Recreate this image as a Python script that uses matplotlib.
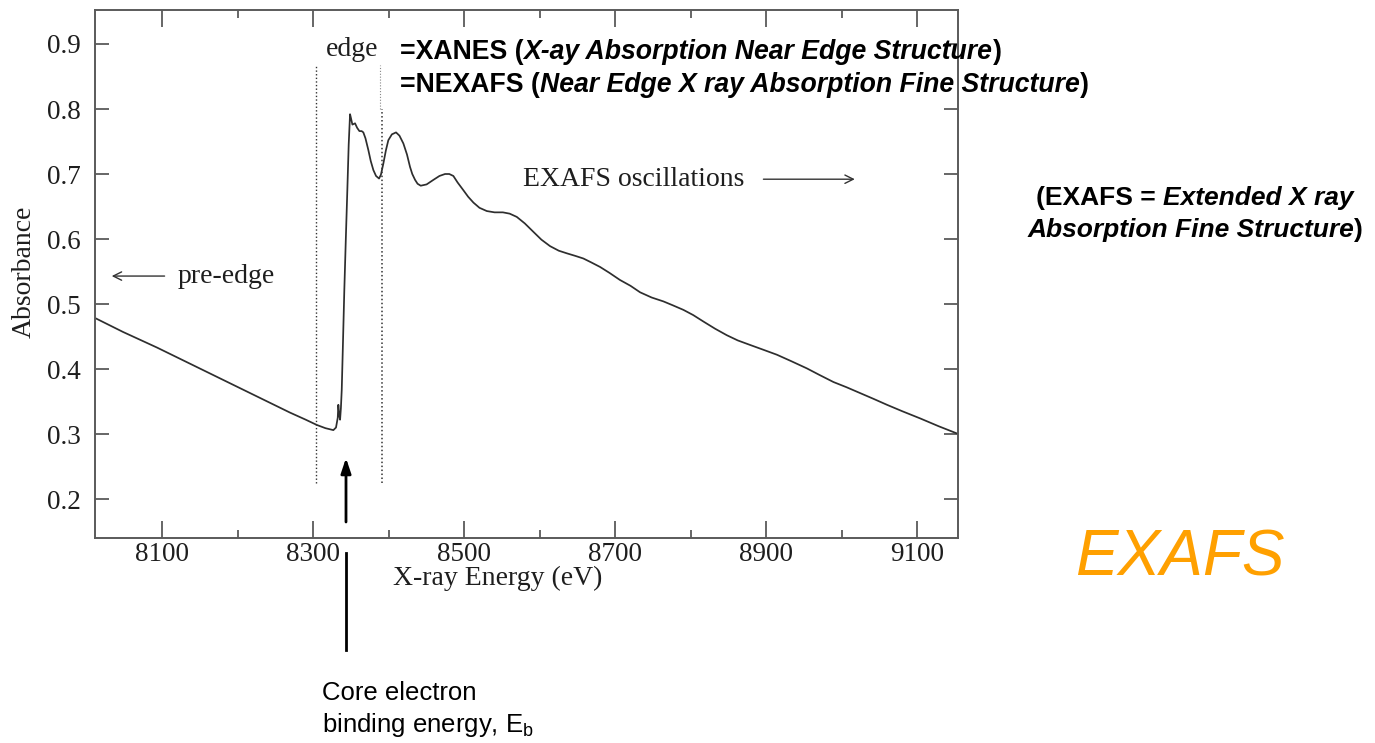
import matplotlib
matplotlib.use("Agg")
import matplotlib.pyplot as plt
from matplotlib.ticker import FixedLocator, MultipleLocator

# Cu K-edge absorption spectrum (energy in eV, absorbance)
energy_ev = [8010, 8048, 8093, 8137, 8181, 8225, 8269, 8290, 8304.5, 8316, 8326.5,
             8330, 8332.3, 8333.1, 8334.2, 8335.4, 8336.5, 8337.6, 8339, 8341, 8343,
             8345, 8346.8, 8348.6, 8350, 8351.7, 8353.5, 8355.2, 8358, 8361, 8364,
             8366.2, 8369, 8372.8, 8376, 8379.5, 8383, 8387, 8389.5, 8392.7, 8396,
             8399.3, 8404, 8409.5, 8414, 8419.2, 8424, 8428, 8431, 8434.7, 8438,
             8442.2, 8450, 8459, 8467, 8474.4, 8480, 8485.4, 8491, 8498.7, 8505,
             8512, 8520, 8529.7, 8540, 8551, 8560, 8569.4, 8580, 8591.4, 8602,
             8613.5, 8625, 8635.6, 8647, 8657.6, 8668, 8679.7, 8692, 8706, 8720,
             8732.7, 8748, 8763.6, 8776, 8790, 8803, 8816.6, 8832, 8847.5, 8862,
             8878.4, 8895, 8913.8, 8933, 8953.5, 8970, 8988.7, 9006, 9024, 9042,
             9059.5, 9080, 9103.6, 9128, 9152]
absorbance = [0.479, 0.457, 0.433, 0.408, 0.383, 0.358, 0.333, 0.322, 0.314, 0.309, 0.306,
              0.310, 0.325, 0.345, 0.330, 0.322, 0.340, 0.368, 0.430, 0.521, 0.600,
              0.675, 0.745, 0.792, 0.785, 0.776, 0.777, 0.778, 0.771, 0.766, 0.766,
              0.764, 0.755, 0.737, 0.720, 0.706, 0.697, 0.693, 0.699, 0.716, 0.736,
              0.752, 0.761, 0.764, 0.759, 0.747, 0.730, 0.711, 0.700, 0.691, 0.685,
              0.682, 0.684, 0.691, 0.697, 0.700, 0.700, 0.697, 0.687, 0.675, 0.665,
              0.656, 0.648, 0.643, 0.641, 0.641, 0.639, 0.634, 0.624, 0.611, 0.599,
              0.589, 0.582, 0.578, 0.574, 0.570, 0.564, 0.557, 0.548, 0.537, 0.528,
              0.518, 0.510, 0.504, 0.498, 0.491, 0.483, 0.473, 0.462, 0.452, 0.444,
              0.437, 0.430, 0.422, 0.412, 0.401, 0.391, 0.380, 0.372, 0.363, 0.354,
              0.345, 0.335, 0.324, 0.312, 0.301]

x_major_ticks = [8100, 8300, 8500, 8700, 8900, 9100]
y_major_ticks = [0.2, 0.3, 0.4, 0.5, 0.6, 0.7, 0.8, 0.9]
edge_start, edge_end = 8303.6, 8391.0
x_range = (8010.2, 9153.0)
y_range = (0.1405, 0.9523)

W, H = 1375, 743
SERIF = "Liberation Serif"
SANS = "Liberation Sans"
INK = "#1e1e1e"
AXIS_GREY = "#5a5a5a"

fig = plt.figure(figsize=(W / 100, H / 100), dpi=100)
fig.patch.set_facecolor("white")


def frac(x, y):
    """Figure-fraction position for a point given in pixels from the top-left."""
    return x / W, (H - y) / H


def px(x, y):
    """Figure-pixel position (origin bottom-left) for a top-left pixel point."""
    return x, H - y


ax = fig.add_axes([94.5 / W, (H - 537.7) / H, (957.5 - 94.5) / W, (537.7 - 10) / H])
ax.plot(energy_ev, absorbance, color="#2e2e2e", lw=1.25, solid_joinstyle="round")
ax.set_xlim(*x_range)
ax.set_ylim(*y_range)

for sp in ax.spines.values():
    sp.set_color(AXIS_GREY)
    sp.set_linewidth(1.4)

ax.xaxis.set_major_locator(FixedLocator(x_major_ticks))
ax.xaxis.set_minor_locator(MultipleLocator(100))
ax.yaxis.set_major_locator(FixedLocator(y_major_ticks))
ax.set_xticklabels([str(t) for t in x_major_ticks])
ax.set_yticklabels([f"{t:.1f}" for t in y_major_ticks])
ax.tick_params(axis="x", which="major", direction="in", top=True, bottom=True,
               length=12, width=1.3, color=AXIS_GREY, pad=3, labelsize=19.5,
               labelcolor=INK)
ax.tick_params(axis="x", which="minor", direction="in", top=True, bottom=True,
               length=6, width=1.3, color=AXIS_GREY)
ax.tick_params(axis="y", which="major", direction="in", left=True, right=True,
               length=10, width=1.3, color=AXIS_GREY, pad=10, labelsize=19.5,
               labelcolor=INK)
for lab in ax.get_xticklabels() + ax.get_yticklabels():
    lab.set_family(SERIF)

# axis titles
fig.text(*frac(498, 578), "X-ray Energy (eV)", family=SERIF, fontsize=20,
         color=INK, ha="center", va="center")
fig.text(*frac(24, 272), "Absorbance", family=SERIF, fontsize=20, color=INK,
         ha="center", va="center", rotation=90)

# edge region markers
dot = (0, (1.0, 1.6))
ax.plot([edge_start, edge_start], [0.225, 0.867], color="#333333", lw=1.0, ls=dot)
ax.plot([edge_end, edge_end], [0.225, 0.800], color="#333333", lw=1.1, ls=dot)
ax.plot([edge_end - 2.2, edge_end - 2.2], [0.800, 0.867], color="#888888", lw=0.8,
        ls=dot)
ax.text(8352, 0.9 - (50 - 44) / 650, "edge", family=SERIF, fontsize=20, color=INK,
        ha="center", va="center")

# region annotations
ax.text(8120, 0.542, "pre-edge", family=SERIF, fontsize=20, color=INK,
        ha="left", va="center")
ax.annotate("", xy=(8033, 0.543), xytext=(8103, 0.543),
            arrowprops=dict(arrowstyle="->,head_length=0.6,head_width=0.3",
                            color="#333333", lw=1.0, shrinkA=0, shrinkB=0))
ax.text(8577, 0.691, "EXAFS oscillations", family=SERIF,
        fontsize=20, color=INK, ha="left", va="center")
ax.annotate("", xy=(9017, 0.692), xytext=(8896, 0.692),
            arrowprops=dict(arrowstyle="->,head_length=0.6,head_width=0.3",
                            color="#333333", lw=1.0, shrinkA=0, shrinkB=0))

# binding-energy pointer
fig.add_artist(plt.Line2D([346 / W, 346 / W], [(H - 553) / H, (H - 650) / H],
                          color="black", lw=2.0))
ax.annotate("", xy=px(346, 458), xytext=px(346, 522), xycoords="figure pixels",
            textcoords="figure pixels",
            arrowprops=dict(arrowstyle="-|>,head_length=0.9,head_width=0.3",
                            color="black", lw=2.0, shrinkA=0, shrinkB=0))
fig.text(*frac(322, 693), "Core electron", family=SANS, fontsize=18.5, color="black",
         ha="left", va="center")
fig.text(*frac(322, 725), r"binding energy, $\mathregular{E_b}$", family=SANS,
         fontsize=18.5, color="black", ha="left", va="center")

renderer = fig.canvas.get_renderer()


def run_width(text, **kw):
    probe = fig.text(0, 0, text + "|", **kw)
    bar = fig.text(0, 0, "|", **kw)
    w = probe.get_window_extent(renderer).width - bar.get_window_extent(renderer).width
    probe.remove()
    bar.remove()
    return w


def draw_runs(x, y, runs, size, align="left"):
    styles = {
        "b": dict(family=SANS, fontsize=size, fontweight="bold", style="normal"),
        "bi": dict(family=SANS, fontsize=size, fontweight="bold", style="italic"),
    }
    widths = [run_width(t, **styles[s]) for t, s in runs]
    total = sum(widths)
    x0 = x - total / 2 if align == "center" else x
    for (t, s), w in zip(runs, widths):
        fig.text(*frac(x0, y), t, color="black", ha="left", va="center", **styles[s])
        x0 += w


draw_runs(400, 52, [("=XANES (", "b"), ("X-ay Absorption Near Edge Structure", "bi"),
                    (")", "b")], 19.2)
draw_runs(400, 85, [("=NEXAFS (", "b"),
                    ("Near Edge X ray Absorption Fine Structure", "bi"), (")", "b")], 19.2)
draw_runs(1195, 198, [("(EXAFS = ", "b"), ("Extended X ray", "bi")], 19, align="center")
draw_runs(1195, 230, [("Absorption Fine Structure", "bi"), (")", "b")], 19,
          align="center")

fig.text(*frac(1075, 558), "EXAFS", family=SANS, fontsize=46, style="italic",
         color="#ffa000", ha="left", va="center")

fig.savefig("out.png", dpi=100, facecolor="white")
